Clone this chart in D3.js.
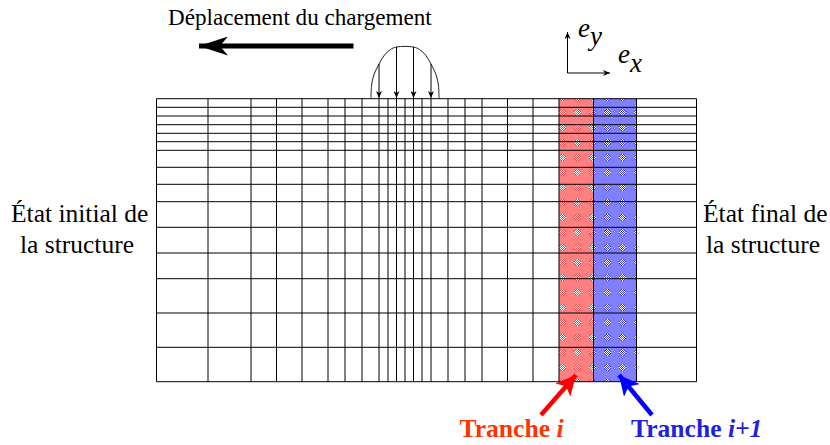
<!DOCTYPE html>
<html><head><meta charset="utf-8">
<script src="https://cdn.jsdelivr.net/npm/d3@7"></script>
<style>html,body{margin:0;background:#fff}svg{display:block}text{font-family:"Liberation Serif",serif;fill:#000}</style>
</head><body><svg id="c" width="830" height="445"></svg>
<script>
// Mesh column edges and row edges (mesh units)
const columnEdges=[0,51.5,94.5,120,145.5,171.5,188.5,205.5,222.5,231.5,240,248.5,257,265.5,274.5,291.5,308.5,325.5,351,376.5,402.5,437,480,540];
const rowEdges=[0,8.6,17.3,26,34.6,43,51.6,68.6,85.6,103,128.6,154.3,180,214.3,248.6,283];
const sliceRed=[402.5,437], sliceBlue=[437,480];
const loadArrowX=[222.5,240,257,274.5];
const loadArrowTop=[34,51,51,34];
const loadCurve=[[214.5,0],[215,12],[217,22],[222.5,34],[228,43],[234,48.5],[240,51],[257,51],[263,48.5],[269,43],[274.5,34],[280,22],[282,12],[282.5,0]];
const topLabel="Déplacement du chargement";

const svg=d3.select("#c");
const x=d3.scaleLinear().domain([0,540]).range([156.5,696.5]);
const y=d3.scaleLinear().domain([0,283]).range([98.7,381.7]);
const loadY=d3.scaleLinear().domain([0,51]).range([98,47]);

const defs=svg.append("defs");
function dither(id,base,c){
 const s=15,p=defs.append("pattern").attr("id",id).attr("width",s).attr("height",s).attr("patternUnits","userSpaceOnUse").attr("shape-rendering","crispEdges");
 p.append("rect").attr("width",s).attr("height",s).attr("fill",base);
 d3.range(s).forEach(i=>d3.range(s).forEach(j=>{
  const r=Math.hypot(i-7,j-7); if(r<=3.6) p.append("rect").attr("x",i).attr("y",j).attr("width",1).attr("height",1).attr("fill",(i+j)%2?"#ffffff":c);
 }));
}
dither("pr","#ff8080","#ff4040");dither("pb","#8080ff","#4040ff");
function marker(id,c,w,h,rx,n){const m=defs.append("marker").attr("id",id).attr("viewBox",`0 0 ${w} ${h}`).attr("markerUnits","userSpaceOnUse").attr("markerWidth",w).attr("markerHeight",h).attr("refX",rx).attr("refY",h/2).attr("orient","auto");
 m.append("path").attr("d",`M0,0L${w},${h/2}L0,${h}L${w*n},${h/2}Z`).attr("fill",c);}
marker("mk","#000",7,6,7,.3);marker("mt","#000",29,19,29,.28);marker("mr","#f00",20,20,20,.25);marker("mb","#00f",20,20,20,.25);

[[sliceRed,"url(#pr)"],[sliceBlue,"url(#pb)"]].forEach(([s,f])=>svg.append("rect").attr("x",x(s[0])).attr("y",y(0)).attr("width",x(s[1])-x(s[0])).attr("height",y(283)-y(0)).attr("fill",f));

svg.append("g").selectAll("line").data(columnEdges).join("line").attr("x1",d=>x(d)).attr("x2",d=>x(d)).attr("y1",y(0)).attr("y2",y(283)).attr("stroke","#000").attr("stroke-width",1);
svg.append("g").selectAll("line").data(rowEdges).join("line").attr("y1",d=>y(d)).attr("y2",d=>y(d)).attr("x1",x(0)).attr("x2",x(540)).attr("stroke","#000").attr("stroke-width",1);

// load
svg.append("path").attr("d",d3.line().x(d=>x(d[0])).y(d=>loadY(d[1])).curve(d3.curveCatmullRom)(loadCurve)).attr("fill","none").attr("stroke","#222");
svg.append("g").selectAll("line").data(loadArrowX).join("line").attr("x1",d=>x(d)).attr("x2",d=>x(d)).attr("y1",(d,i)=>loadY(loadArrowTop[i])).attr("y2",loadY(0)).attr("stroke","#000").attr("marker-end","url(#mk)");

function arrow(a,b,c,d,col,w,m){svg.append("line").attr("x1",a).attr("y1",b).attr("x2",c).attr("y2",d).attr("stroke",col).attr("stroke-width",w).attr("marker-end",`url(#${m})`);}
arrow(353.5,46,199,46,"#000",5,"mt");
arrow(567.5,73,567.5,32,"#000",1,"mk");
arrow(567.5,73,610,73,"#000",1,"mk");
arrow(541,415,576,375,"#f00",4.5,"mr");
arrow(652,415,619,375,"#00f",4.5,"mb");

function txt(s,a,b,size,o={}){return svg.append("text").attr("x",a).attr("y",b).attr("font-size",size).attr("font-style",o.i?"italic":null).attr("font-weight",o.b?"bold":null).text(s);}
txt(topLabel,168,24.5,23.1);
txt("État initial de",11,222,25.5);
txt("la structure",20,253,25.5);
txt("État final de",703,222,25.5);
txt("la structure",706,253,25.5);
function vec(a,b,sub,dy){const t=txt("e",a,b,27,{i:1});t.append("tspan").attr("dy",dy).text(sub);}
vec(578,37,"y",8);
vec(618,63,"x",9);
function tr(a,it,col,sz){const t=txt("Tranche ",a,436.5,sz,{b:1}).style("fill",col);t.append("tspan").attr("font-style","italic").text(it);}
tr(459.5,"i","#ff3300",25.6);
tr(631,"i+1","#2222dd",25.6);
</script></body></html>
